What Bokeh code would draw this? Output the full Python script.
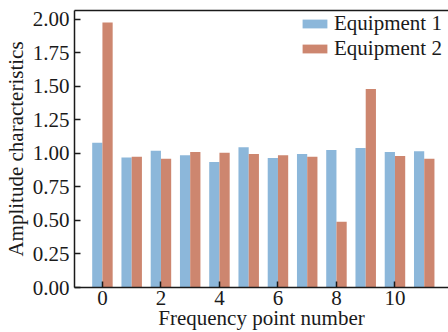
from bokeh.plotting import figure
from bokeh.models import (ColumnDataSource, Range1d, LinearAxis, FixedTicker,
                          PrintfTickFormatter, Legend, LegendItem)
from bokeh.transform import dodge
from bokeh.embed import file_html
from bokeh.resources import INLINE

# Amplitude characteristic per frequency point for the two devices
freq_points = list(range(12))
equipment_1 = [1.08, 0.97, 1.02, 0.985, 0.935, 1.045, 0.965, 0.995, 1.025, 1.04, 1.01, 1.015]
equipment_2 = [1.975, 0.975, 0.96, 1.01, 1.005, 0.995, 0.985, 0.975, 0.49, 1.48, 0.98, 0.96]
x_ticks = [0, 2, 4, 6, 8, 10]
y_ticks = [0.0, 0.25, 0.5, 0.75, 1.0, 1.25, 1.5, 1.75, 2.0]

BLUE = "#8CB7DA"
ORANGE = "#CD866F"
FONT = "Liberation Serif"
FONT_SIZE = "21px"
AXIS_COLOR = "#1a1a1a"

source = ColumnDataSource(dict(x=freq_points, e1=equipment_1, e2=equipment_2))

p = figure(width=448, height=332, output_backend="svg", toolbar_location=None,
           x_range=Range1d(-0.955, 11.83), y_range=Range1d(0, 2.065),
           min_border_left=73, min_border_right=0, min_border_top=10,
           min_border_bottom=44)
p.outline_line_color = None
p.xgrid.visible = False
p.ygrid.visible = False
p.background_fill_color = "white"

bar_w = 0.35
r1 = p.vbar(x=dodge("x", -bar_w / 2, range=p.x_range), top="e1", width=bar_w,
            bottom=0, source=source, fill_color=BLUE, line_color=None)
r2 = p.vbar(x=dodge("x", bar_w / 2, range=p.x_range), top="e2", width=bar_w,
            bottom=0, source=source, fill_color=ORANGE, line_color=None)

def style_axis(ax):
    ax.axis_line_width = 1.5
    ax.axis_line_color = AXIS_COLOR
    ax.major_tick_line_color = AXIS_COLOR
    ax.major_tick_line_width = 1.5
    ax.major_tick_in = 6
    ax.major_tick_out = 0
    ax.minor_tick_line_color = None
    ax.major_label_text_font = FONT
    ax.major_label_text_font_size = FONT_SIZE
    ax.major_label_text_color = AXIS_COLOR
    ax.axis_label_text_font = FONT
    ax.axis_label_text_font_size = FONT_SIZE
    ax.axis_label_text_font_style = "normal"
    ax.axis_label_text_color = AXIS_COLOR

xa = p.xaxis[0]
style_axis(xa)
xa.ticker = FixedTicker(ticks=x_ticks)
xa.axis_label = "Frequency point number"
xa.major_label_standoff = 3
xa.axis_label_standoff = -2

ya = p.yaxis[0]
style_axis(ya)
ya.ticker = FixedTicker(ticks=y_ticks)
ya.formatter = PrintfTickFormatter(format="%.2f")
ya.axis_label = "Amplitude characteristics"
ya.major_label_standoff = 5
ya.axis_label_standoff = 2

# plain frame line along the top edge
top = LinearAxis(ticker=FixedTicker(ticks=[]), major_label_text_font_size="0px",
                 major_tick_in=0, major_tick_out=0, minor_tick_in=0, minor_tick_out=0,
                 axis_line_width=1.5, axis_line_color=AXIS_COLOR)
p.add_layout(top, "above")

legend = Legend(items=[LegendItem(label="Equipment 1", renderers=[r1]),
                       LegendItem(label="Equipment 2", renderers=[r2])],
                location=(225, 226), padding=0, margin=0, spacing=0,
                glyph_width=31, glyph_height=11, label_standoff=4,
                label_text_font=FONT, label_text_font_size=FONT_SIZE,
                label_text_color=AXIS_COLOR, label_height=22,
                border_line_color=None, background_fill_alpha=0)
p.add_layout(legend, "center")

open("out.html", "w").write(file_html(p, INLINE))
